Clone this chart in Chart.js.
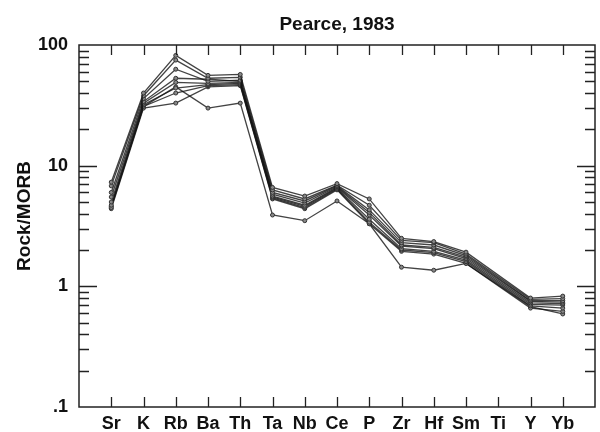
<!DOCTYPE html>
<html>
<head>
<meta charset="utf-8">
<script src="https://cdn.jsdelivr.net/npm/chart.js@4.4.0/dist/chart.umd.min.js"></script>
<style>
  html, body { margin: 0; padding: 0; background: #fff; }
</style>
</head>
<body>
<canvas id="spider" width="600" height="432"></canvas>
<script>
// MORB-normalised spider diagram (Pearce, 1983)
const elements = ["Sr", "K", "Rb", "Ba", "Th", "Ta", "Nb", "Ce", "P", "Zr", "Hf", "Sm", "Ti", "Y", "Yb"];
const yTickValues = [0.1, 1, 10, 100];
const yTickLabels = [".1", "1", "10", "100"];

// one array per sample, Ti not analysed (null)
const sample1 = [7.3, 40, 82, 56, 57, 6.6, 5.6, 7.1, 5.3, 2.5, 2.35, 1.92, null, 0.80, 0.83];
const sample2 = [6.8, 38, 75, 53, 54, 6.3, 5.3, 6.9, 4.7, 2.4, 2.3, 1.85, null, 0.78, 0.79];
const sample3 = [6.0, 36, 63, 50, 51, 6.0, 5.1, 6.8, 4.3, 2.3, 2.2, 1.8, null, 0.76, 0.76];
const sample4 = [5.5, 34, 53, 52, 50, 5.8, 4.9, 6.7, 4.1, 2.2, 2.1, 1.75, null, 0.75, 0.74];
const sample5 = [5.0, 33, 49, 48, 49, 5.6, 4.7, 6.6, 3.9, 2.15, 2.05, 1.7, null, 0.73, 0.72];
const sample6 = [4.7, 32, 44, 47, 48, 5.5, 4.6, 6.5, 3.6, 2.05, 1.95, 1.65, null, 0.71, 0.70];
const sample7 = [4.5, 31, 40, 46, 47, 5.4, 4.5, 6.4, 3.4, 2.0, 1.9, 1.6, null, 0.69, 0.66];
const sample8 = [4.4, 30, 33, 45, 46, 5.3, 4.4, 6.3, 3.3, 1.95, 1.85, 1.55, null, 0.66, 0.62];
const sample9 = [4.6, 31, 45, 30, 33, 3.9, 3.5, 5.1, 3.3, 1.44, 1.36, 1.55, null, 0.68, 0.59];
const samples = [sample1, sample2, sample3, sample4, sample5, sample6, sample7, sample8, sample9];

const FONT = "'Liberation Sans', Arial, sans-serif";

// frame, inward ticks, title and y label
const framePlugin = {
    id: "frame",
    afterDraw(chart) {
        const { ctx, chartArea: a, scales } = chart;
        const x = scales.x, y = scales.y;
        ctx.save();
        ctx.strokeStyle = "#222";
        ctx.lineWidth = 1.5;
        ctx.strokeRect(a.left, a.top, a.right - a.left, a.bottom - a.top);

        ctx.lineWidth = 1.3;
        ctx.beginPath();
        elements.forEach((el, i) => {
            const px = Math.round(x.getPixelForValue(i)) + 0.5;
            ctx.moveTo(px, a.top); ctx.lineTo(px, a.top + 10);
            ctx.moveTo(px, a.bottom); ctx.lineTo(px, a.bottom - 10);
        });
        for (let d = 0.1; d < 100; d *= 10) {
            for (let m = 1; m < 10; m++) {
                const v = d * m;
                if (v <= 0.1) continue;
                const py = Math.round(y.getPixelForValue(v)) + 0.5;
                const len = m === 1 ? 18 : 10;
                ctx.moveTo(a.left, py); ctx.lineTo(a.left + len, py);
                ctx.moveTo(a.right, py); ctx.lineTo(a.right - len, py);
            }
        }
        ctx.stroke();

        ctx.fillStyle = "#111";
        ctx.font = "bold 19px " + FONT;
        ctx.textAlign = "center";
        ctx.textBaseline = "middle";
        ctx.fillText("Pearce, 1983", (a.left + a.right) / 2, 25);

        ctx.translate(25, 216);
        ctx.rotate(-Math.PI / 2);
        ctx.fillText("Rock/MORB", 0, 0);
        ctx.restore();
    }
};

new Chart(document.getElementById("spider"), {
    type: "line",
    data: {
        datasets: samples.map((vals) => ({
            data: vals.map((v, i) => ({ x: i, y: v })),
            borderColor: "rgba(20,20,20,0.8)",
            borderWidth: 1.3,
            pointRadius: 2,
            pointBorderWidth: 1,
            pointBorderColor: "#333",
            pointBackgroundColor: "#888",
            spanGaps: true,
            tension: 0,
        })),
    },
    options: {
        responsive: false,
        devicePixelRatio: 1,
        animation: false,
        layout: { padding: { top: 45, right: 2, left: 0, bottom: 0 } },
        plugins: {
            legend: { display: false },
            tooltip: { enabled: false },
            title: { display: false },
        },
        scales: {
            x: {
                type: "linear",
                min: -1,
                max: 15,
                grid: { display: false },
                border: { display: false },
                afterBuildTicks: (s) => {
                    s.ticks = elements.map((e, i) => ({ value: i }));
                },
                afterFit: (s) => { s.height = 25; },
                ticks: {
                    autoSkip: false,
                    maxRotation: 0,
                    padding: -2,
                    color: "#111",
                    font: { family: FONT, size: 18, weight: "bold" },
                    callback: (v) => elements[v] ?? "",
                },
            },
            y: {
                type: "logarithmic",
                min: 0.1,
                max: 100,
                grid: { display: false },
                border: { display: false },
                afterBuildTicks: (s) => {
                    s.ticks = yTickValues.map((v) => ({ value: v }));
                },
                afterFit: (s) => { s.width = 79; },
                ticks: {
                    padding: 3,
                    color: "#111",
                    font: { family: FONT, size: 18, weight: "bold" },
                    callback: (v) => yTickLabels[yTickValues.indexOf(v)],
                },
            },
        },
    },
    plugins: [framePlugin],
});
</script>
</body>
</html>
